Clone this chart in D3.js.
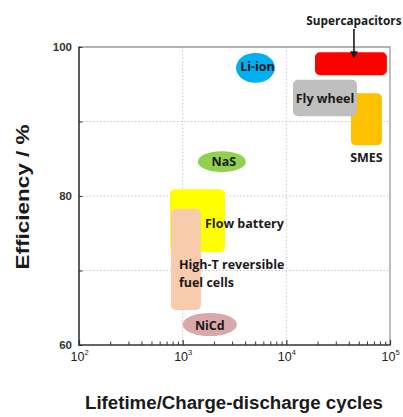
<!DOCTYPE html>
<html>
<head>
<meta charset="utf-8">
<script src="https://cdn.jsdelivr.net/npm/d3@7"></script>
<style>
  html, body { margin: 0; padding: 0; background: #fff; }
  svg { display: block; }
</style>
</head>
<body>
<svg id="chart" width="403" height="417"></svg>
<script>
// Storage technologies: lifetime (charge-discharge cycles) vs round-trip efficiency (%)
const technologies = ["SMES", "Fly wheel", "Supercapacitors", "Flow battery",
                      "High-T reversible fuel cells", "Li-ion", "NaS", "NiCd"];
const cyclesMin = [42000, 11600, 18900,  755,  770, 3270, 1400, 1000];
const cyclesMax = [83600, 48000, 93300, 2560, 1500, 7760, 4070, 3340];
const effMin    = [ 86.8,  90.7,  96.2, 72.5, 64.7, 95.2, 83.2, 61.2];
const effMax    = [ 93.8,  95.6,  99.3, 80.9, 78.3, 99.2, 86.0, 64.3];
const shapes    = ["rect", "rect", "rect", "rect", "rect", "ellipse", "ellipse", "ellipse"];
const fills     = ["#ffc000", "#bfbfbf", "#ff0000", "#ffff00", "#f8cbad", "#00b0f0", "#92d050", "#dba8aa"];

// Axis ticks
const xTickValues = [1e2, 1e3, 1e4, 1e5];
const xTickExponents = ["2", "3", "4", "5"];
const yTickValues = [60, 70, 80, 90, 100];
const yTickLabels = ["60", "", "80", "", "100"];

const svg = d3.select("#chart");
const plotLeft = 79, plotRight = 390, plotTop = 47, plotBottom = 345;

const x = d3.scaleLog().domain([1e2, 1e5]).range([plotLeft, plotRight]);
const y = d3.scaleLinear().domain([60, 100]).range([plotBottom, plotTop]);

const labelFont = "'Open Sans', 'DejaVu Sans', sans-serif";
const axisFont = "'Liberation Sans', Arial, sans-serif";

// Dotted grid
const grid = svg.append("g").attr("stroke", "#c8c8c8").attr("stroke-width", 1)
  .attr("stroke-dasharray", "1.5,2");
[1e3, 1e4].forEach(v => grid.append("line")
  .attr("x1", x(v)).attr("x2", x(v)).attr("y1", plotTop).attr("y2", plotBottom));
[70, 80, 90].forEach(v => grid.append("line")
  .attr("x1", plotLeft).attr("x2", plotRight).attr("y1", y(v)).attr("y2", y(v)));

// Frame: light top/right, dark axes
svg.append("path")
  .attr("d", `M${plotLeft},${plotTop}H${plotRight}V${plotBottom}`)
  .attr("fill", "none").attr("stroke", "#9a9a9a").attr("stroke-width", 1.3);

// Technology regions
const regions = technologies.map((name, i) => ({
  name, shape: shapes[i], fill: fills[i],
  x0: x(cyclesMin[i]), x1: x(cyclesMax[i]),
  y0: y(effMax[i]), y1: y(effMin[i])
}));
const byName = Object.fromEntries(regions.map(r => [r.name, r]));

const marks = svg.append("g");
regions.forEach(r => {
  if (r.shape === "rect") {
    marks.append("rect")
      .attr("x", r.x0).attr("y", r.y0)
      .attr("width", r.x1 - r.x0).attr("height", r.y1 - r.y0)
      .attr("rx", 5).attr("ry", 5)
      .attr("fill", r.fill);
  } else {
    marks.append("ellipse")
      .attr("cx", (r.x0 + r.x1) / 2).attr("cy", (r.y0 + r.y1) / 2)
      .attr("rx", (r.x1 - r.x0) / 2).attr("ry", (r.y1 - r.y0) / 2)
      .attr("fill", r.fill);
  }
});

// Axes
const xAxisG = svg.append("g").attr("transform", `translate(0,${plotBottom})`);
const minorX = [];
for (let e = 2; e < 5; e++) for (let m = 2; m <= 9; m++) minorX.push(m * Math.pow(10, e));
xAxisG.call(d3.axisBottom(x).tickValues(minorX).tickSize(-3.5).tickFormat(""));
xAxisG.select(".domain").remove();
xAxisG.selectAll(".tick line").attr("stroke", "#333").attr("stroke-width", 1);
const xMajorG = svg.append("g").attr("transform", `translate(0,${plotBottom})`);
xMajorG.call(d3.axisBottom(x).tickValues(xTickValues).tickSize(-5).tickFormat(""));
xMajorG.select(".domain").remove();
xMajorG.selectAll(".tick line").attr("stroke", "#333").attr("stroke-width", 1.2);

svg.append("line").attr("x1", plotLeft - 0.5).attr("x2", plotRight + 0.6)
  .attr("y1", plotBottom).attr("y2", plotBottom)
  .attr("stroke", "#333").attr("stroke-width", 1.6);

// x tick labels as 10 with superscript exponent
const xLab = svg.append("g").attr("font-family", axisFont).attr("fill", "#222");
xTickValues.forEach((v, i) => {
  const t = xLab.append("text")
    .attr("x", x(v) - 8.5).attr("y", plotBottom + 15.5)
    .attr("font-size", 12.5);
  t.append("tspan").text("10");
  t.append("tspan").attr("dy", -5.5).attr("font-size", 7.5).text(xTickExponents[i]);
});

const yAxisG = svg.append("g").attr("transform", `translate(${plotLeft},0)`);
yAxisG.call(d3.axisLeft(y).tickValues(yTickValues).tickSize(-3.5).tickPadding(7)
  .tickFormat((d, i) => yTickLabels[i]));
yAxisG.select(".domain").remove();
yAxisG.selectAll(".tick line").attr("stroke", "#333");
yAxisG.selectAll(".tick text")
  .attr("font-family", axisFont).attr("font-weight", "bold")
  .attr("font-size", 11.5).attr("fill", "#333").attr("dy", "0.3em");
svg.append("line").attr("x1", plotLeft).attr("x2", plotLeft)
  .attr("y1", plotTop - 0.6).attr("y2", plotBottom + 0.8)
  .attr("stroke", "#333").attr("stroke-width", 1.6);

// Axis titles
svg.append("text")
  .attr("x", 234).attr("y", 409)
  .attr("text-anchor", "middle")
  .attr("font-family", axisFont).attr("font-weight", "bold").attr("font-size", 18)
  .attr("textLength", 298).attr("lengthAdjust", "spacingAndGlyphs")
  .attr("fill", "#1a1a1a")
  .text("Lifetime/Charge-discharge cycles");

svg.append("text")
  .attr("transform", "translate(28.5,197) rotate(-90)")
  .attr("text-anchor", "middle")
  .attr("font-family", axisFont).attr("font-weight", "bold").attr("font-size", 18.5)
  .attr("textLength", 145).attr("lengthAdjust", "spacingAndGlyphs")
  .attr("fill", "#1a1a1a")
  .text("Efficiency / %");

// Region labels
const labels = svg.append("g")
  .attr("font-family", labelFont).attr("font-weight", "bold")
  .attr("font-size", 12.5).attr("fill", "#1a1a1a");

function centerLabel(name, text, dx = 0, dy = 0) {
  const r = byName[name];
  labels.append("text")
    .attr("x", (r.x0 + r.x1) / 2 + dx).attr("y", (r.y0 + r.y1) / 2 + dy)
    .attr("text-anchor", "middle").attr("dominant-baseline", "central")
    .text(text);
}
centerLabel("Li-ion", "Li-ion", 2, -1);
centerLabel("NaS", "NaS", 2, 0);
centerLabel("NiCd", "NiCd", 0, 1);
centerLabel("Fly wheel", "Fly wheel", 0, 0);

const smes = byName["SMES"];
labels.append("text")
  .attr("x", (smes.x0 + smes.x1) / 2).attr("y", smes.y1 + 17)
  .attr("text-anchor", "middle").text("SMES");

const flow = byName["Flow battery"];
labels.append("text")
  .attr("x", flow.x0 + 35).attr("y", flow.y0 + 39)
  .text("Flow battery");

const fc = byName["High-T reversible fuel cells"];
const fcText = labels.append("text").attr("x", fc.x0 + 8).attr("y", fc.y0 + 60);
fcText.append("tspan").attr("x", fc.x0 + 8).text("High-T reversible");
fcText.append("tspan").attr("x", fc.x0 + 8).attr("dy", 18).text("fuel cells");

// Supercapacitors callout with arrow
const sc = byName["Supercapacitors"];
const ax = (sc.x0 + sc.x1) / 2 + 3;
labels.append("text")
  .attr("x", ax).attr("y", 25)
  .attr("text-anchor", "middle").attr("font-size", 11.8)
  .text("Supercapacitors");
svg.append("line")
  .attr("x1", ax).attr("x2", ax).attr("y1", 29).attr("y2", sc.y0 + 1)
  .attr("stroke", "#1a1a1a").attr("stroke-width", 1.6);
svg.append("path")
  .attr("d", `M${ax - 4},${sc.y0 - 1}L${ax + 4},${sc.y0 - 1}L${ax},${sc.y0 + 6}Z`)
  .attr("fill", "#1a1a1a");
</script>
</body>
</html>
